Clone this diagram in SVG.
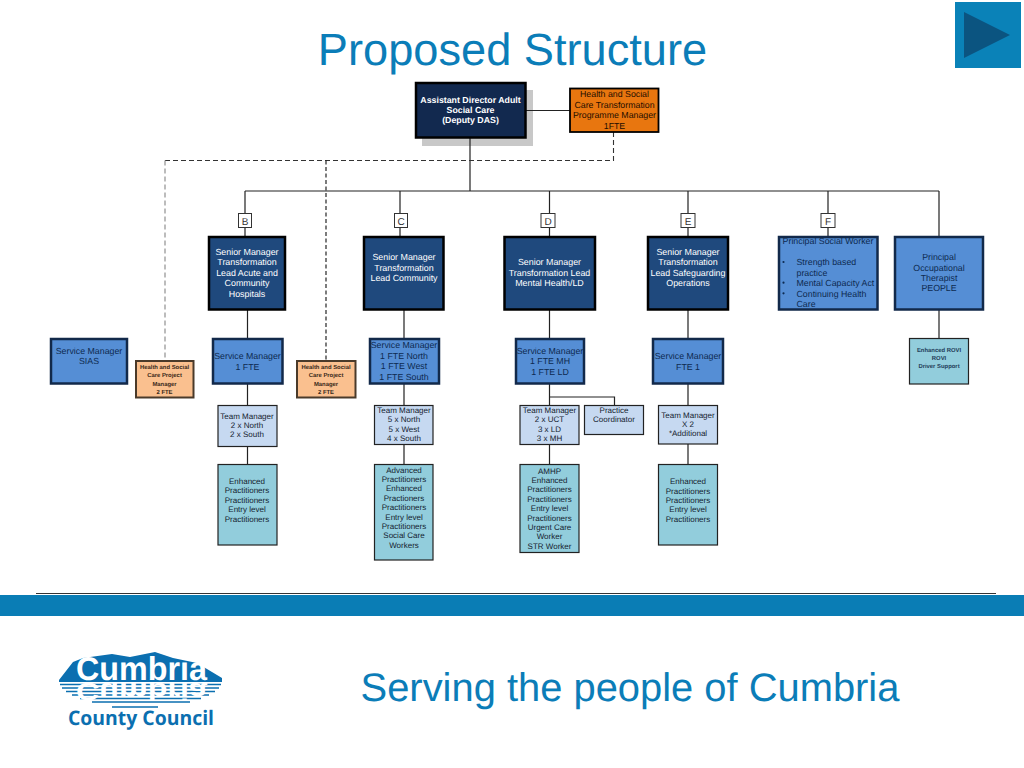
<svg xmlns="http://www.w3.org/2000/svg" width="1024" height="768" viewBox="0 0 1024 768">
<style>
text{font-family:"Liberation Sans",Arial,sans-serif;text-anchor:middle;text-rendering:geometricPrecision}
.ttl{fill:#0b7db8}
.con{fill:none;stroke:#222;stroke-width:1.2}
.dash{fill:none;stroke:#333;stroke-width:1.1;stroke-dasharray:5 3}
.dashg{fill:none;stroke:#999;stroke-width:1.3;stroke-dasharray:5 3}
.dashk{fill:none;stroke:#111;stroke-width:1.1;stroke-dasharray:4 2.500}
.dir{fill:#12294f;stroke:#000;stroke-width:2.500}
.sen{fill:#1f497d;stroke:#000;stroke-width:2.500}
.sm{fill:#558ed5;stroke:#12294a;stroke-width:2.500}
.tm{fill:#c6d9f1;stroke:#222;stroke-width:1.200}
.leaf{fill:#92cddc;stroke:#222;stroke-width:1.200}
.org{fill:#e8760f;stroke:#000;stroke-width:1.800}
.lorg{fill:#fac08f;stroke:#4a3a2a;stroke-width:2}
.let{fill:#fff;stroke:#333;stroke-width:1}
.w{font-size:8.900px;fill:#fff}
.wb{font-size:8.800px;fill:#fff;font-weight:bold}
.d{font-size:8.800px;fill:#0d2a50}
.k{font-size:8px;fill:#14222f}
.o{font-size:8.800px;fill:#1f0e00}
.s{font-size:5.900px;font-weight:bold;fill:#3a2a1a}
.r{font-size:5.900px;font-weight:bold;fill:#24405a}
.l{font-size:10px;fill:#333}
</style>

<g id="title"><text class="ttl" x="512.500" y="65" font-size="45.200">Proposed Structure</text></g>
<g id="play"><rect x="955" y="2" width="66" height="66" fill="#0a82b8"/><polygon points="964,12 1010,35 964,58" fill="#0b5480"/></g>

<g id="shadow"><rect x="422" y="90" width="111" height="56" fill="#c8c8c8"/></g>

<g id="connectors">
<path class="con" d="M526 110.500H570M470 138V191M245 191H939M245 191V236M400 191V236M549.500 191V236M688 191V236M828 191V236M939 191V236"/>
<path class="con" d="M247.500 310V338M404 310V338M549.500 310V338M688 310V338M939 310V338"/>
<path class="con" d="M247.500 384V405M404 384V405M549.500 384V405M688 384V405M549.500 397H614.500V405"/>
<path class="con" d="M247.500 446V464M404 445V464M549.500 445V464M688 444V464"/>
<path class="dash" d="M613.500 132V160.500H165"/>
<path class="dashg" d="M165 160.500V360"/>
<path class="dashk" d="M326 160.500V360"/>
</g>

<g id="director"><rect class="dir" x="416" y="83" width="109.500" height="54.500"/><text class="wb"><tspan x="470.500" y="103">Assistant Director Adult</tspan><tspan x="470.500" y="113">Social Care</tspan><tspan x="470.500" y="123">(Deputy DAS)</tspan></text></g>
<g id="programme-manager"><rect class="org" x="570" y="88.500" width="88.500" height="43.500"/><text class="o"><tspan x="614.500" y="97">Health and Social</tspan><tspan x="614.500" y="108">Care Transformation</tspan><tspan x="614.500" y="118">Programme Manager</tspan><tspan x="614.500" y="129">1FTE</tspan></text></g>

<g id="label-b"><rect class="let" x="238.500" y="213.500" width="13" height="14"/><text class="l" x="245" y="224.500">B</text></g>
<g id="label-c"><rect class="let" x="394.500" y="213.500" width="13" height="14"/><text class="l" x="401" y="224.500">C</text></g>
<g id="label-d"><rect class="let" x="541" y="213.500" width="14" height="14"/><text class="l" x="548" y="224.500">D</text></g>
<g id="label-e"><rect class="let" x="681" y="213.500" width="14" height="14"/><text class="l" x="688" y="224.500">E</text></g>
<g id="label-f"><rect class="let" x="821" y="213.500" width="14" height="14"/><text class="l" x="828" y="224.500">F</text></g>

<g id="senior-b"><rect class="sen" x="209" y="237" width="76" height="72.500"/><text class="w"><tspan x="247" y="255">Senior Manager</tspan><tspan x="247" y="265">Transformation</tspan><tspan x="247" y="275.500">Lead Acute and</tspan><tspan x="247" y="286">Community</tspan><tspan x="247" y="296.500">Hospitals</tspan></text></g>
<g id="senior-c"><rect class="sen" x="364" y="237" width="79.500" height="72.500"/><text class="w"><tspan x="404" y="260">Senior Manager</tspan><tspan x="404" y="270.500">Transformation</tspan><tspan x="404" y="280.500">Lead Community</tspan></text></g>
<g id="senior-d"><rect class="sen" x="504.500" y="237" width="90.500" height="72.500"/><text class="w"><tspan x="549.500" y="265">Senior Manager</tspan><tspan x="549.500" y="275.500">Transformation Lead</tspan><tspan x="549.500" y="285.500">Mental Health/LD</tspan></text></g>
<g id="senior-e"><rect class="sen" x="648" y="237" width="80" height="72.500"/><text class="w"><tspan x="688" y="255">Senior Manager</tspan><tspan x="688" y="265">Transformation</tspan><tspan x="688" y="275.500">Lead Safeguarding</tspan><tspan x="688" y="285.500">Operations</tspan></text></g>
<g id="senior-f"><rect class="sm" x="779" y="237" width="98.500" height="72.500"/><text class="d" x="828" y="244">Principal Social Worker</text><text class="d" style="text-anchor:start"><tspan x="796.500" y="265">Strength based</tspan><tspan x="796.500" y="276">practice</tspan><tspan x="796.500" y="286">Mental Capacity Act</tspan><tspan x="796.500" y="296.500">Continuing Health</tspan><tspan x="796.500" y="306.500">Care</tspan></text><circle cx="783.500" cy="262" r="1.100" fill="#0d2a50"/><circle cx="783.500" cy="282.700" r="1.100" fill="#0d2a50"/><circle cx="783.500" cy="293.300" r="1.100" fill="#0d2a50"/></g>
<g id="senior-g"><rect class="sm" x="895" y="237" width="88" height="72.500"/><text class="d"><tspan x="939" y="260">Principal</tspan><tspan x="939" y="270.500">Occupational</tspan><tspan x="939" y="280.500">Therapist</tspan><tspan x="939" y="290.500">PEOPLE</tspan></text></g>

<g id="sm-sias"><rect class="sm" x="51" y="339" width="76" height="44.500"/><text class="d"><tspan x="89" y="353.500">Service Manager</tspan><tspan x="89" y="364">SIAS</tspan></text></g>
<g id="project-manager-1"><rect class="lorg" x="136" y="361" width="57.500" height="36.500"/><text class="s"><tspan x="164.500" y="369">Health and Social</tspan><tspan x="164.500" y="377">Care Project</tspan><tspan x="164.500" y="386">Manager</tspan><tspan x="164.500" y="394">2 FTE</tspan></text></g>
<g id="sm-b"><rect class="sm" x="213" y="339" width="69.500" height="44.500"/><text class="d"><tspan x="247.500" y="358.500">Service Manager</tspan><tspan x="247.500" y="369.500">1 FTE</tspan></text></g>
<g id="project-manager-2"><rect class="lorg" x="297" y="361" width="58.500" height="36.500"/><text class="s"><tspan x="326" y="369">Health and Social</tspan><tspan x="326" y="377">Care Project</tspan><tspan x="326" y="386">Manager</tspan><tspan x="326" y="394">2 FTE</tspan></text></g>
<g id="sm-c"><rect class="sm" x="370" y="339" width="69" height="44.500"/><text class="d"><tspan x="404" y="348">Service Manager</tspan><tspan x="404" y="358.500">1 FTE North</tspan><tspan x="404" y="369">1 FTE West</tspan><tspan x="404" y="379.500">1 FTE South</tspan></text></g>
<g id="sm-d"><rect class="sm" x="516" y="339" width="68" height="44.500"/><text class="d"><tspan x="550" y="353.500">Service Manager</tspan><tspan x="550" y="364">1 FTE MH</tspan><tspan x="550" y="374.500">1 FTE LD</tspan></text></g>
<g id="sm-e"><rect class="sm" x="653" y="339" width="70" height="44.500"/><text class="d"><tspan x="688" y="358.500">Service Manager</tspan><tspan x="688" y="369.500">FTE 1</tspan></text></g>
<g id="rovi"><rect class="leaf" x="909.500" y="338.500" width="59" height="45.500"/><text class="r"><tspan x="939" y="351.500">Enhanced ROVI</tspan><tspan x="939" y="359.500">ROVI</tspan><tspan x="939" y="367.500">Driver Support</tspan></text></g>

<g id="tm-b"><rect class="tm" x="218" y="405.500" width="59" height="41"/><text class="k"><tspan x="247" y="419">Team Manager</tspan><tspan x="247" y="428">2 x North</tspan><tspan x="247" y="437">2 x South</tspan></text></g>
<g id="tm-c"><rect class="tm" x="374.500" y="405.500" width="58.500" height="39"/><text class="k"><tspan x="404" y="413">Team Manager</tspan><tspan x="404" y="422">5 x North</tspan><tspan x="404" y="432">5 x West</tspan><tspan x="404" y="441">4 x South</tspan></text></g>
<g id="tm-d"><rect class="tm" x="520" y="405.500" width="59" height="39"/><text class="k"><tspan x="549.500" y="413">Team Manager</tspan><tspan x="549.500" y="422">2 x UCT</tspan><tspan x="549.500" y="432">3 x LD</tspan><tspan x="549.500" y="441">3 x MH</tspan></text></g>
<g id="practice-coordinator"><rect class="tm" x="584.500" y="405.500" width="59" height="29"/><text class="k"><tspan x="614" y="413">Practice</tspan><tspan x="614" y="422">Coordinator</tspan></text></g>
<g id="tm-e"><rect class="tm" x="658.500" y="405.500" width="59" height="38.500"/><text class="k"><tspan x="688" y="418">Team Manager</tspan><tspan x="688" y="427">X 2</tspan><tspan x="688" y="436">*Additional</tspan></text></g>

<g id="staff-b"><rect class="leaf" x="218" y="464.500" width="59" height="80.500"/><text class="k"><tspan x="247" y="484">Enhanced</tspan><tspan x="247" y="493">Practitioners</tspan><tspan x="247" y="503">Practitioners</tspan><tspan x="247" y="512">Entry level</tspan><tspan x="247" y="522">Practitioners</tspan></text></g>
<g id="staff-c"><rect class="leaf" x="374.500" y="464.500" width="58.500" height="95.500"/><text class="k"><tspan x="404" y="473">Advanced</tspan><tspan x="404" y="482">Practitioners</tspan><tspan x="404" y="491">Enhanced</tspan><tspan x="404" y="501">Practioners</tspan><tspan x="404" y="510">Practitioners</tspan><tspan x="404" y="520">Entry level</tspan><tspan x="404" y="529">Practitioners</tspan><tspan x="404" y="538">Social Care</tspan><tspan x="404" y="548">Workers</tspan></text></g>
<g id="staff-d"><rect class="leaf" x="520" y="464.500" width="59" height="88"/><text class="k"><tspan x="549.500" y="474">AMHP</tspan><tspan x="549.500" y="483">Enhanced</tspan><tspan x="549.500" y="492">Practitioners</tspan><tspan x="549.500" y="502">Practitioners</tspan><tspan x="549.500" y="511">Entry level</tspan><tspan x="549.500" y="521">Practitioners</tspan><tspan x="549.500" y="530">Urgent Care</tspan><tspan x="549.500" y="539">Worker</tspan><tspan x="549.500" y="549">STR Worker</tspan></text></g>
<g id="staff-e"><rect class="leaf" x="658.500" y="464.500" width="59" height="80.500"/><text class="k"><tspan x="688" y="484">Enhanced</tspan><tspan x="688" y="494">Practitioners</tspan><tspan x="688" y="503">Practitioners</tspan><tspan x="688" y="512">Entry level</tspan><tspan x="688" y="522">Practitioners</tspan></text></g>

<g id="footer">
<rect x="36" y="593" width="960" height="1" fill="#333"/>
<rect x="0" y="595" width="1024" height="21" fill="#0a7db5"/>
<text class="ttl" x="630" y="701" font-size="39.900">Serving the people of Cumbria</text>
</g>

<g id="logo">
<path d="M59 680L73 662L83 658L112 654L130 657L155 652L173 658L197 663L222 678L222 682H59Z" fill="#0b6fb0"/>
<path d="M60 684.500H221M62 688H219M66 691.500H215M72 695H209M80 698.500H201M92 702H190M112 707H158" stroke="#0b6fb0" stroke-width="1.600" fill="none"/>
<text x="141.500" y="680" font-size="33" font-weight="bold" fill="#fff" textLength="131" lengthAdjust="spacingAndGlyphs">Cumbria</text>
<text transform="translate(0 1193) scale(1 -0.750)" x="141.500" y="680" font-size="33" font-weight="bold" fill="#fff" textLength="131" lengthAdjust="spacingAndGlyphs">Cumbria</text>
<text x="141" y="725" font-size="20" font-weight="bold" fill="#0b6fb0" style="font-family:'Open Sans','Liberation Sans',sans-serif" textLength="146" lengthAdjust="spacingAndGlyphs">County Council</text>
</g>
</svg>
